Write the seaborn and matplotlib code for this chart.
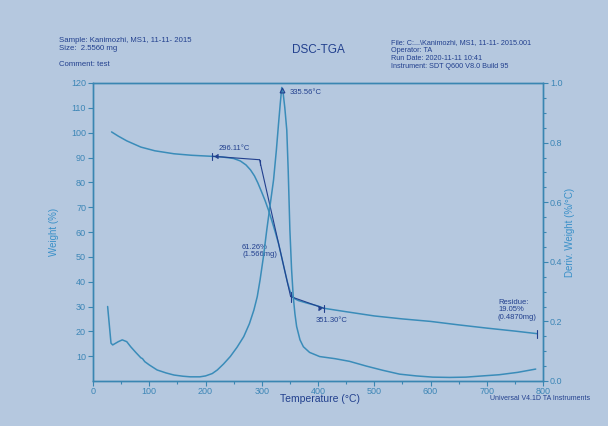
import matplotlib
matplotlib.use("Agg")
import matplotlib.pyplot as plt
from matplotlib.ticker import MultipleLocator, FormatStrFormatter
import seaborn as sns
import pandas as pd

# TGA weight trace (°C, %)
temp_weight = [33, 45, 60, 85, 110, 144, 175, 209, 230, 250, 262, 272, 280, 287,
               293, 300, 306, 312, 318, 324, 330, 335.56, 341, 346, 350, 354, 358,
               365, 380, 400, 410, 450, 500, 550, 600, 650, 700, 750, 790]
weight_pct = [100.3, 98.6, 96.7, 94.2, 92.7, 91.5, 90.9, 90.5, 90.2, 89.6, 88.6,
              87.0, 85.0, 82.6, 79.8, 76.0, 72.6, 68.8, 64.5, 60.0, 55.2, 49.7,
              44.3, 39.5, 36.4, 34.3, 33.2, 32.4, 31.4, 30.2, 29.3, 27.9, 26.2,
              25.0, 24.0, 22.6, 21.3, 20.1, 19.05]

# DTG trace (°C, %/°C)
temp_deriv = [26, 32, 35, 45, 52, 60, 67, 76, 85, 88, 92, 100, 114, 130, 144, 160,
              173, 190, 200, 212, 221, 232, 244, 256, 268, 278, 286, 292, 297, 303,
              309, 315, 321, 326, 330, 333, 335.56, 338, 341, 344.5, 347, 350, 353,
              356, 359, 362, 368, 374, 385, 403, 430, 456, 486, 515, 545, 575, 604,
              634, 663, 692, 722, 755, 787]
deriv_weight = [0.250, 0.127, 0.121, 0.132, 0.138, 0.132, 0.115, 0.096, 0.078,
                0.075, 0.065, 0.054, 0.037, 0.027, 0.020, 0.016, 0.014, 0.014,
                0.017, 0.025, 0.037, 0.057, 0.082, 0.113, 0.149, 0.192, 0.238,
                0.283, 0.339, 0.417, 0.508, 0.592, 0.675, 0.775, 0.867, 0.933,
                0.985, 0.967, 0.917, 0.842, 0.708, 0.508, 0.375, 0.283, 0.225,
                0.183, 0.138, 0.115, 0.096, 0.082, 0.075, 0.066, 0.050, 0.036,
                0.023, 0.017, 0.013, 0.012, 0.013, 0.017, 0.021, 0.029, 0.040]

# Step analysis results
step_limits_temp = [212, 410]
step_limits_weight = [90.5, 29.3]
onset_temp, onset_weight = 296.11, 89.1
endset_temp, endset_weight = 351.30, 34.0
peak_temp, peak_deriv = 335.56, 0.985
step_change, step_mass = 61.26, 1.566
residue_temp, residue_pct, residue_mass = 790, 19.05, 0.4870

paper = "#b5c8df"
trace = "#3a8cb9"
ink = "#22408e"
axis_c = "#3a86b2"
tick_txt = "#3d86b6"

sns.set_theme(style="ticks")
plt.rcParams["font.family"] = ["Liberation Sans", "DejaVu Sans"]

fig = plt.figure(figsize=(6.08, 4.26), dpi=100, facecolor=paper)
ax = fig.add_axes([93 / 608, 1 - 381 / 426, 450 / 608, 298 / 426])
ax.set_facecolor(paper)
ax2 = ax.twinx()

wdf = pd.DataFrame({"Temperature": temp_weight, "Weight": weight_pct})
ddf = pd.DataFrame({"Temperature": temp_deriv, "Deriv": deriv_weight})
sns.lineplot(data=wdf, x="Temperature", y="Weight", ax=ax, color=trace,
             lw=1.1, estimator=None, sort=False)
sns.lineplot(data=ddf, x="Temperature", y="Deriv", ax=ax2, color=trace,
             lw=1.1, estimator=None, sort=False)

ax.set_xlim(0, 800)
ax.set_ylim(0, 120)
ax2.set_ylim(0, 1.0)

ax.xaxis.set_major_locator(MultipleLocator(100))
ax.xaxis.set_minor_locator(MultipleLocator(50))
ax.set_yticks(range(10, 121, 10))
ax2.yaxis.set_major_locator(MultipleLocator(0.2))
ax2.yaxis.set_minor_locator(MultipleLocator(0.05))
ax2.yaxis.set_major_formatter(FormatStrFormatter("%.1f"))

for a in (ax, ax2):
    for s in a.spines.values():
        s.set_visible(True)
        s.set_color(axis_c)
        s.set_linewidth(1.0)
    a.tick_params(which="both", direction="out", color=axis_c, width=0.8,
                  labelcolor=tick_txt, labelsize=6.5, pad=1.5)
    a.tick_params(which="major", length=3.5)
    a.tick_params(which="minor", length=2.5)
ax.tick_params(axis="x", which="both", pad=0.5)

ax.set_xlabel("Temperature (°C)", fontsize=7.5, color=ink)
ax.xaxis.set_label_coords(0.504, -0.045)
ax.set_ylabel("Weight (%)", fontsize=7, color="#3a90c8")
ax.yaxis.set_label_coords(-0.075, 0.5)
ax2.set_ylabel("Deriv. Weight (%/°C)", fontsize=7, color="#3a90c8", rotation=90)
ax2.yaxis.set_label_coords(1.048, 0.5)

# step analysis construction lines
line_kw = dict(color=ink, lw=0.8)
ax.plot([step_limits_temp[0], onset_temp], [step_limits_weight[0], onset_weight], **line_kw)
ax.plot([onset_temp, endset_temp], [onset_weight, endset_weight], **line_kw)
ax.plot([endset_temp, step_limits_temp[1]], [endset_weight, step_limits_weight[1]], **line_kw)
ax.plot([onset_temp, onset_temp], [onset_weight, onset_weight - 2.2], **line_kw)
ax.plot([endset_temp, endset_temp], [endset_weight + 1.8, endset_weight - 2.2], **line_kw)
for t, w in zip(step_limits_temp, step_limits_weight):
    ax.plot([t, t], [w + 1.4, w - 1.4], **line_kw)
ax.plot(step_limits_temp[0] + 5, step_limits_weight[0], marker=4, ms=3, color=ink)
ax.plot(step_limits_temp[1] - 5, step_limits_weight[1] + 0.2, marker=5, ms=3, color=ink)
ax.plot([residue_temp, residue_temp], [residue_pct + 1.6, residue_pct - 1.6], **line_kw)
ax2.plot(peak_temp, peak_deriv - 0.01, marker="^", ms=3.5, mfc="none", mec=ink, mew=0.8)

txt_kw = dict(fontsize=5.5, color=ink)
ax.text(223, 93.5, f"{onset_temp:.2f}°C", va="center", **txt_kw)
ax.text(350, 116.3, f"{peak_temp:.2f}°C", va="center", **txt_kw)
ax.text(265, 52.4, f"{step_change:.2f}%\n({step_mass:.3f}mg)", va="center",
        linespacing=1.1, **txt_kw)
ax.text(395, 24.3, f"{endset_temp:.2f}°C", va="center", **txt_kw)
ax.text(720, 28.6, f"Residue:\n{residue_pct:.2f}%\n({residue_mass:.4f}mg)", va="center",
        linespacing=1.05, **txt_kw)

# run header
hdr = dict(fontsize=5.6, color=ink, va="center", ha="left")
fig.text(59 / 608, 1 - 41 / 426, "Sample: Kanimozhi, MS1, 11-11- 2015", **hdr)
fig.text(59 / 608, 1 - 48 / 426, "Size:  2.5560 mg", **hdr)
fig.text(59 / 608, 1 - 64 / 426, "Comment: test", **hdr)
fig.text(318 / 608, 1 - 50 / 426, "DSC-TGA", fontsize=8.5, color=ink,
         ha="center", va="center")
hdr2 = dict(fontsize=5.2, color=ink, va="center", ha="left")
fig.text(391 / 608, 1 - 43 / 426, "File: C:...\\Kanimozhi, MS1, 11-11- 2015.001", **hdr2)
fig.text(391 / 608, 1 - 51 / 426, "Operator: TA", **hdr2)
fig.text(391 / 608, 1 - 58 / 426, "Run Date: 2020-11-11 10:41", **hdr2)
fig.text(391 / 608, 1 - 66 / 426, "Instrument: SDT Q600 V8.0 Build 95", **hdr2)
fig.text(490 / 608, 1 - 399 / 426, "Universal V4.1D TA Instruments", fontsize=5,
         color=ink, va="center", ha="left")

fig.savefig("out.png", dpi=100, facecolor=paper)
